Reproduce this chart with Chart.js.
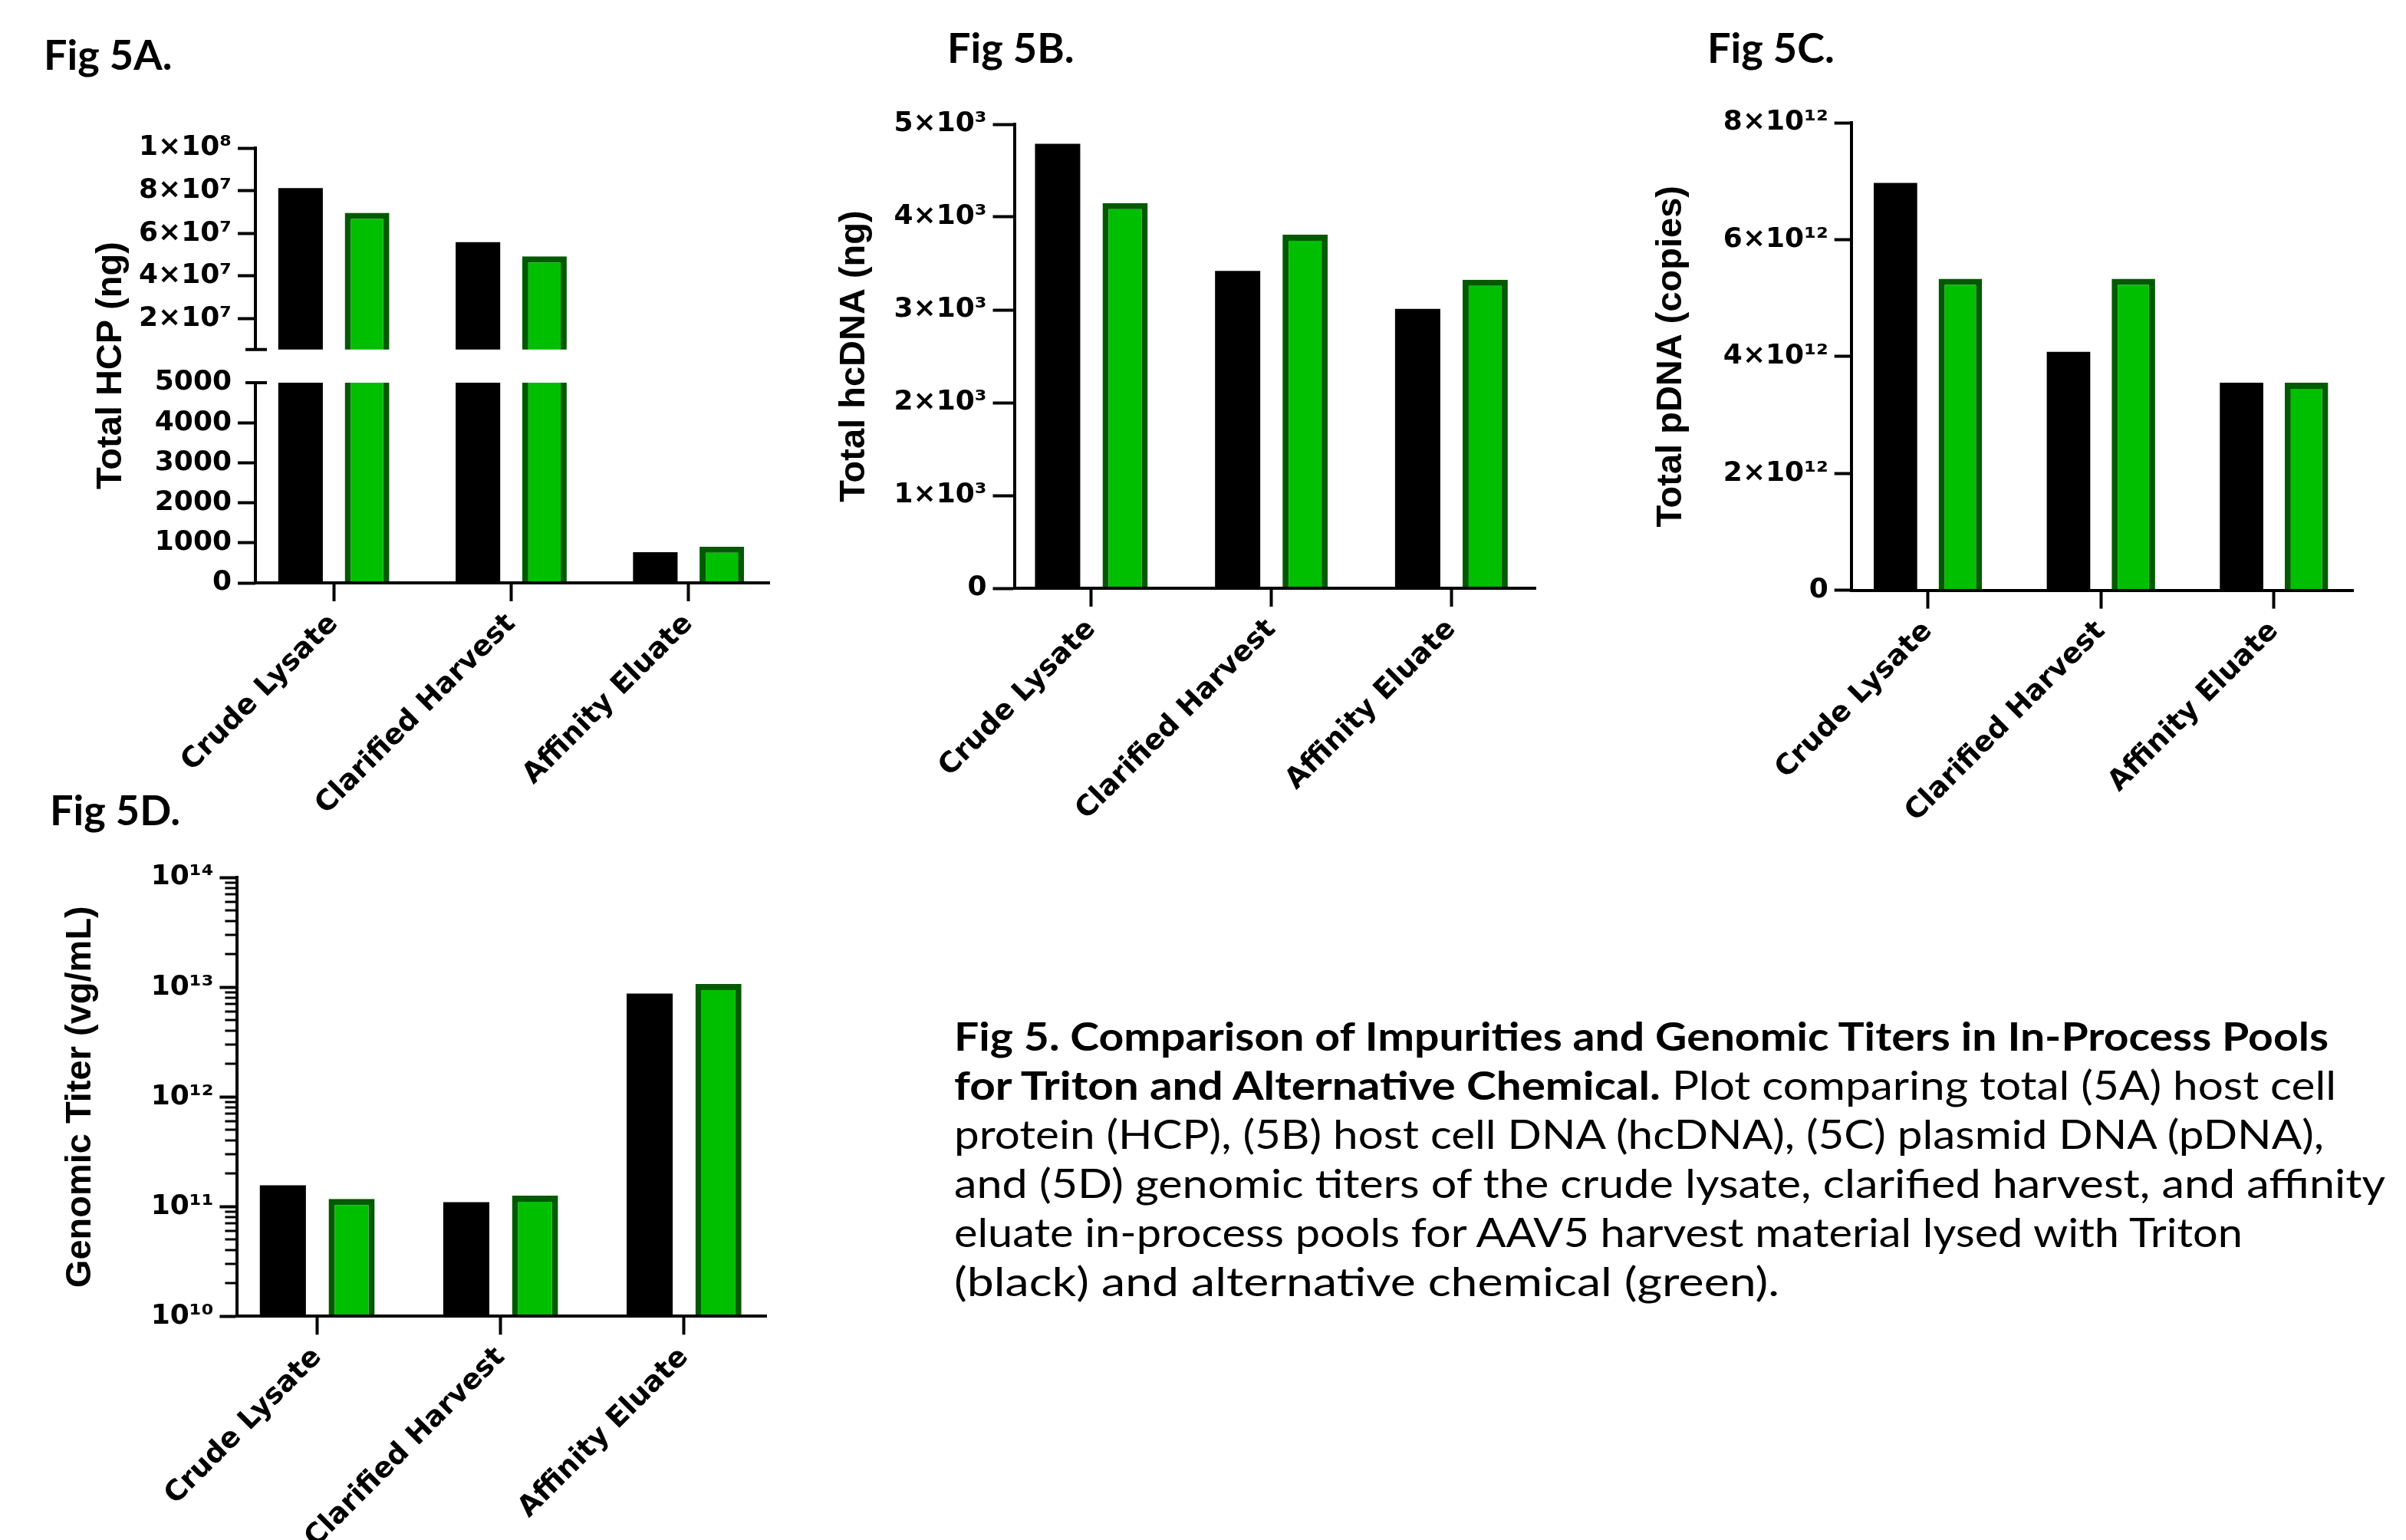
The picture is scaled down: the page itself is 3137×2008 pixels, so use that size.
<!DOCTYPE html>
<html>
<head>
<meta charset="utf-8">
<script src="https://cdn.jsdelivr.net/npm/chart.js@4.4.1/dist/chart.umd.min.js"></script>
<style>
  html, body { margin: 0; padding: 0; background: #ffffff; }
  #page { position: relative; width: 3137px; height: 2008px; overflow: hidden; background: #ffffff; }
  canvas { position: absolute; }
  .figlabel { position: absolute; font-family: 'Lato', sans-serif; font-weight: 700; font-size: 54px; line-height: 1; white-space: nowrap; color: #000; }
  #caption { position: absolute; left: 1244px; top: 1318px; font-family: 'Lato', sans-serif; font-size: 52px; line-height: 64px; white-space: nowrap; color: #000; }
  #caption .ln { display: block; height: 64px; }
  #caption .ln span.fit { display: inline-block; transform-origin: 0 0; }
  #caption b { font-weight: 700; }
</style>
</head>
<body>
<div id="page">
  <div class="figlabel" style="left:57px; top:44px;">Fig 5A.</div>
  <div class="figlabel" style="left:1235px; top:35px;">Fig 5B.</div>
  <div class="figlabel" style="left:2226px; top:35px;">Fig 5C.</div>
  <div class="figlabel" style="left:65px; top:1029px;">Fig 5D.</div>

  <canvas id="c5a"></canvas>
  <canvas id="c5b"></canvas>
  <canvas id="c5c"></canvas>
  <canvas id="c5d"></canvas>

  <div id="caption">
    <div class="ln"><span class="fit" data-w="1792"><b>Fig 5. Comparison of Impurities and Genomic Titers in In-Process Pools</b></span></div>
    <div class="ln"><span class="fit" data-w="1802"><b>for Triton and Alternative Chemical.</b> Plot comparing total (5A) host cell</span></div>
    <div class="ln"><span class="fit" data-w="1786">protein (HCP), (5B) host cell DNA (hcDNA), (5C) plasmid DNA (pDNA),</span></div>
    <div class="ln"><span class="fit" data-w="1866">and (5D) genomic titers of the crude lysate, clarified harvest, and affinity</span></div>
    <div class="ln"><span class="fit" data-w="1680">eluate in-process pools for AAV5 harvest material lysed with Triton</span></div>
    <div class="ln"><span class="fit" data-w="1076">(black) and alternative chemical (green).</span></div>
  </div>
</div>

<script>
// ---------------- DATA ----------------
const categories = ['Crude Lysate', 'Clarified Harvest', 'Affinity Eluate'];
const seriesNames = ['Triton', 'Alternative Chemical'];

const hcpTriton      = [8.12e7, 5.58e7, 765];
const hcpAlternative = [6.96e7, 4.92e7, 905];

const hcdnaTriton      = [4790, 3420, 3010];
const hcdnaAlternative = [4150, 3810, 3325];

const pdnaTriton      = [6.97e12, 4.08e12, 3.55e12];
const pdnaAlternative = [5.33e12, 5.33e12, 3.55e12];

const titerTriton      = [1.56e11, 1.095e11, 8.75e12];
const titerAlternative = [1.175e11, 1.26e11, 1.07e13];

const hcpTicks       = [0, 1000, 2000, 3000, 4000, 5000, 2e7, 4e7, 6e7, 8e7, 1e8];
const hcpTickLabels  = ['0', '1000', '2000', '3000', '4000', '5000', '2×10⁷', '4×10⁷', '6×10⁷', '8×10⁷', '1×10⁸'];
const hcdnaTicks      = [0, 1000, 2000, 3000, 4000, 5000];
const hcdnaTickLabels = ['0', '1×10³', '2×10³', '3×10³', '4×10³', '5×10³'];
const pdnaTicks      = [0, 2e12, 4e12, 6e12, 8e12];
const pdnaTickLabels = ['0', '2×10¹²', '4×10¹²', '6×10¹²', '8×10¹²'];
const titerTicks      = [1e10, 1e11, 1e12, 1e13, 1e14];
const titerTickLabels = ['10¹⁰', '10¹¹', '10¹²', '10¹³', '10¹⁴'];

// ---------------- STYLE ----------------
const BLACK = '#000000';
const GREEN = '#00BE00';
const GREEN_EDGE = '#005A00';
const tickFont  = { family: 'DejaVu Sans', weight: 'bold', size: 36 };
const catFont   = { family: 'DejaVu Sans', weight: 'bold', size: 37 };
const titleFont = { family: 'Liberation Sans', weight: 'bold', size: 47, lineHeight: 1 };

// Broken (two-segment) linear axis for the HCP panel
class BrokenLinearScale extends Chart.LinearScale {
  getPixelForValue(value) {
    const b = this.options.brk;
    const top = this.top, bottom = this.bottom, h = bottom - top;
    const lowH = h * b.lowFrac, gapH = h * b.gapFrac, highH = h - lowH - gapH;
    if (value <= b.lowMax) return bottom - (value - this.min) / (b.lowMax - this.min) * lowH;
    if (value < b.highMin) return bottom - lowH - gapH / 2;
    return top + (this.max - value) / (this.max - b.highMin) * highH;
  }
  getValueForPixel(pixel) {
    const b = this.options.brk;
    const top = this.top, bottom = this.bottom, h = bottom - top;
    const lowH = h * b.lowFrac, gapH = h * b.gapFrac, highH = h - lowH - gapH;
    if (pixel >= bottom - lowH) return this.min + (bottom - pixel) / lowH * (b.lowMax - this.min);
    if (pixel > top + highH) return b.lowMax;
    return this.max - (pixel - top) / highH * (this.max - b.highMin);
  }
}
BrokenLinearScale.id = 'brokenLinear';
BrokenLinearScale.defaults = Chart.LinearScale.defaults;
Chart.register(BrokenLinearScale);

const axisDecorPlugin = {
  id: 'axisDecor',
  beforeDatasetsDraw(chart) {
    const s = chart.scales.y, b = s.options.brk;
    if (!b) return;
    const ca = chart.chartArea, ctx = chart.ctx;
    const gapTop = s.getPixelForValue(b.highMin), gapBot = s.getPixelForValue(b.lowMax);
    ctx.save();
    ctx.beginPath();
    ctx.rect(ca.left, ca.top - 50, ca.right - ca.left, gapTop - ca.top + 50);
    ctx.rect(ca.left, gapBot, ca.right - ca.left, ca.bottom - gapBot + 50);
    ctx.clip();
  },
  afterDatasetsDraw(chart) {
    if (chart.scales.y.options.brk) chart.ctx.restore();
  },
  afterDraw(chart) {
    const s = chart.scales.y, ctx = chart.ctx, x = chart.chartArea.left;
    const b = s.options.brk;
    ctx.save();
    ctx.strokeStyle = BLACK;
    ctx.lineCap = 'butt';
    if (b) {
      const gapTop = s.getPixelForValue(b.highMin), gapBot = s.getPixelForValue(b.lowMax);
      ctx.lineWidth = 4;
      ctx.beginPath();
      ctx.moveTo(x, s.top - 2); ctx.lineTo(x, gapTop + 2);
      ctx.moveTo(x, gapBot - 2); ctx.lineTo(x, s.bottom + 2);
      ctx.moveTo(x - 13, gapTop); ctx.lineTo(x + 15, gapTop);
      ctx.moveTo(x - 13, gapBot); ctx.lineTo(x + 15, gapBot);
      ctx.stroke();
    }
    const minorLen = s.options.minorTickLength;
    if (minorLen) {
      ctx.lineWidth = 3;
      ctx.beginPath();
      s.ticks.forEach(t => {
        if (t.major) return;
        const y = Math.round(s.getPixelForValue(t.value));
        ctx.moveTo(x - 2 - minorLen, y); ctx.lineTo(x, y);
      });
      ctx.stroke();
    }
    ctx.restore();
  }
};

function makePanel(p) {
  const canvas = document.getElementById(p.id);
  const cw = Math.round(p.R + p.padR - p.cx);
  const ch = Math.round(p.cb - p.cy);
  canvas.width = cw; canvas.height = ch;
  canvas.style.left = p.cx + 'px'; canvas.style.top = p.cy + 'px';
  canvas.style.width = cw + 'px'; canvas.style.height = ch + 'px';
  const yWidth = p.L - p.cx;
  const xHeight = p.cb - p.B;
  const lookup = (v) => { const i = p.tickValues.indexOf(v); return i >= 0 ? p.tickLabels[i] : ''; };
  const hidden = p.hideTicks || [];

  const yScale = {
    type: p.yType, min: p.yMin, max: p.yMax,
    afterFit: (s) => { s.width = yWidth; },
    afterBuildTicks: (s) => {
      const t = p.tickValues.map(v => ({ value: v, major: true }))
        .concat((p.minorValues || []).map(v => ({ value: v, major: false })));
      t.sort((a, b) => a.value - b.value);
      s.ticks = t;
    },
    ticks: { autoSkip: false, padding: 8, color: BLACK, font: tickFont, callback: (v) => lookup(v) },
    grid: {
      display: true, drawOnChartArea: false, drawTicks: true, tickLength: p.tickLen, tickWidth: 4,
      tickColor: (c) => (c.tick && c.tick.major && !hidden.includes(c.tick.value)) ? BLACK : 'rgba(0,0,0,0)'
    },
    border: { display: !p.brk, width: 4, color: BLACK, z: 1 },
    title: { display: true, text: p.title, color: BLACK, font: titleFont, padding: { top: p.titleCX - p.cx - titleFont.size / 2, bottom: 0 } }
  };
  if (p.brk) yScale.brk = p.brk;
  if (p.minorTickLength) yScale.minorTickLength = p.minorTickLength;

  return new Chart(canvas, {
    type: 'bar',
    data: {
      labels: categories,
      datasets: [
        { label: seriesNames[0], data: p.a, backgroundColor: BLACK, borderWidth: 0, categoryPercentage: 0.75, barPercentage: 0.67 },
        { label: seriesNames[1], data: p.b, backgroundColor: GREEN, borderColor: GREEN_EDGE, borderWidth: 8, categoryPercentage: 0.75, barPercentage: 0.67 }
      ]
    },
    options: {
      responsive: false, animation: false, devicePixelRatio: 1,
      layout: { padding: { left: 0, top: p.T - p.cy, right: p.padR, bottom: 0 } },
      plugins: { legend: { display: false }, tooltip: { enabled: false }, title: { display: false } },
      scales: {
        x: {
          type: 'category', offset: true,
          afterBuildTicks: (s) => { s._startValue = -p.xLeft; s._valueRange = (categories.length - 1) + p.xLeft + p.xRight; },
          afterFit: (s) => { s.height = xHeight; },
          grid: { display: true, drawOnChartArea: false, offset: false, drawTicks: true, tickLength: 24, tickWidth: 4, tickColor: BLACK },
          border: { display: true, width: 4, color: BLACK, z: 1 },
          ticks: { autoSkip: false, maxRotation: 45, minRotation: 45, padding: 8, color: BLACK, font: catFont }
        },
        y: yScale
      }
    },
    plugins: [axisDecorPlugin]
  });
}

const titerMinor = [];
for (let e = 10; e < 14; e++) for (let m = 2; m <= 9; m++) titerMinor.push(m * Math.pow(10, e));

makePanel({
  id: 'c5a', cx: 0, cy: 130, cb: 1100, L: 333, R: 1002.5, T: 193, B: 760, padR: 30,
  yType: 'brokenLinear', yMin: 0, yMax: 1e8,
  brk: { lowMax: 5000, highMin: 5.5e6, lowFrac: 0.4603, gapFrac: 0.0764 },
  tickValues: hcpTicks, tickLabels: hcpTickLabels, hideTicks: [5000], tickLen: 23,
  title: 'Total HCP (ng)', titleCX: 145, xLeft: 0.442, xRight: 0.455,
  a: hcpTriton, b: hcpAlternative
});

makePanel({
  id: 'c5b', cx: 1040, cy: 100, cb: 1100, L: 1322.5, R: 2002, T: 162, B: 767, padR: 38,
  yType: 'linear', yMin: 0, yMax: 5000,
  tickValues: hcdnaTicks, tickLabels: hcdnaTickLabels, tickLen: 28,
  title: 'Total hcDNA (ng)', titleCX: 1113.6, xLeft: 0.428, xRight: 0.467,
  a: hcdnaTriton, b: hcdnaAlternative
});

makePanel({
  id: 'c5c', cx: 2080, cy: 100, cb: 1100, L: 2413.7, R: 3067.6, T: 160, B: 769.6, padR: 42,
  yType: 'linear', yMin: 0, yMax: 8e12,
  tickValues: pdnaTicks, tickLabels: pdnaTickLabels, tickLen: 22,
  title: 'Total pDNA (copies)', titleCX: 2179, xLeft: 0.443, xRight: 0.457,
  a: pdnaTriton, b: pdnaAlternative
});

makePanel({
  id: 'c5d', cx: 0, cy: 1100, cb: 2008, L: 309.4, R: 999.1, T: 1144.1, B: 1716.3, padR: 40,
  yType: 'logarithmic', yMin: 1e10, yMax: 1e14,
  tickValues: titerTicks, tickLabels: titerTickLabels, minorValues: titerMinor, minorTickLength: 14, tickLen: 23,
  title: 'Genomic Titer (vg/mL)', titleCX: 105.5, xLeft: 0.436, xRight: 0.448,
  a: titerTriton, b: titerAlternative
});

// fit each caption line to the measured line length of the original figure
function fitCaption() {
  document.querySelectorAll('#caption span.fit').forEach(el => {
    el.style.transform = 'none';
    const w = el.getBoundingClientRect().width;
    const target = parseFloat(el.dataset.w);
    if (w > 0) el.style.transform = 'scaleX(' + (target / w) + ')';
  });
}
fitCaption();
if (document.fonts && document.fonts.ready) document.fonts.ready.then(fitCaption);
</script>
</body>
</html>
